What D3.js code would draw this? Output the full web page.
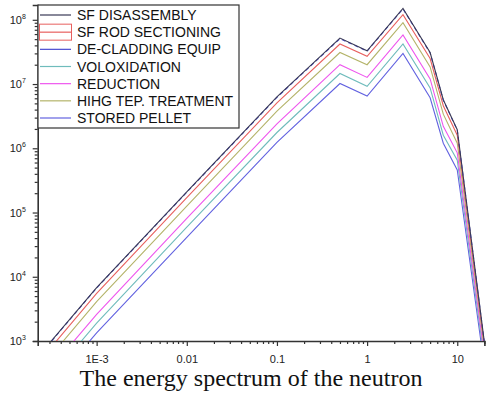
<!DOCTYPE html>
<html><head><meta charset="utf-8">
<script src="https://cdn.jsdelivr.net/npm/d3@7"></script>
<style>
html,body{margin:0;padding:0;background:#fff;}
svg{display:block;}
</style></head>
<body>
<svg id="c" width="486" height="396"></svg>
<script>
const energies = [1e-4, 1e-3, 0.01, 0.1, 0.5, 1, 2.5, 5, 7, 10, 20];
const seriesNames = ["SF DISASSEMBLY","SF ROD SECTIONING","DE-CLADDING EQUIP","VOLOXIDATION","REDUCTION","HIHG TEP. TREATMENT","STORED PELLET"];
const seriesColors = ["#3a3a55","#e8605f","#4a4ad0","#6fbcbc","#ee55ee","#b4b46a","#6262e0"];
const sfDisassembly   = [150, 6.8e3, 2.1e5, 6.3e6, 5.2e7, 3.3e7, 1.5e8, 3.1e7, 5.7e6, 1.95e6, 9.5e2];
const sfRodSectioning = [120, 5.5e3, 1.7e5, 5.1e6, 4.2e7, 2.7e7, 1.2e8, 2.5e7, 4.6e6, 1.6e6, 8.5e2];
const deCladding      = [148, 6.7e3, 2.07e5, 6.2e6, 5.1e7, 3.25e7, 1.48e8, 3.05e7, 5.6e6, 1.92e6, 9.3e2];
const voloxidation    = [42, 1.9e3, 5.9e4, 1.76e6, 1.46e7, 9.2e6, 4.2e7, 8.7e6, 1.6e6, 6.5e5, 5.0e2];
const reduction       = [58, 2.6e3, 8.1e4, 2.4e6, 2.0e7, 1.27e7, 5.8e7, 1.2e7, 2.2e6, 8.5e5, 6.0e2];
const highTemp        = [90, 4.1e3, 1.26e5, 3.8e6, 3.1e7, 2.0e7, 9.0e7, 1.85e7, 3.4e6, 1.2e6, 7.5e2];
const storedPellet    = [30, 1.34e3, 4.1e4, 1.24e6, 1.02e7, 6.5e6, 3.0e7, 6.1e6, 1.2e6, 4.6e5, 4.0e2];
const seriesValues = [sfDisassembly, sfRodSectioning, deCladding, voloxidation, reduction, highTemp, storedPellet];
const drawOrder = [6,3,4,5,1,2,0];
const xTickValues = [1e-3, 0.01, 0.1, 1, 10];
const xTickLabels = ["1E-3","0.01","0.1","1","10"];
const yTickValues = [1e3,1e4,1e5,1e6,1e7,1e8];
const yTickExps = ["3","4","5","6","7","8"];
const title = "The energy spectrum of the neutron";

const svg = d3.select("#c");
const x = d3.scaleLog().domain([2.22e-4, 20]).range([37.7, 484.4]);
const y = d3.scaleLog().domain([1e3, 1.7e8]).range([341, 5]);

svg.append("clipPath").attr("id","clip").append("rect")
  .attr("x", 37.7).attr("y", 0).attr("width", 486-37.7).attr("height", 341);

const xMinor = [];
for (let d=-4; d<=1; d++) for (let m=2; m<=9; m++) { const v=m*Math.pow(10,d); if (v>=2.22e-4 && v<=20) xMinor.push(v); }
const yMinor = [];
for (let d=3; d<=8; d++) for (let m=2; m<=9; m++) { const v=m*Math.pow(10,d); if (v<=1.7e8) yMinor.push(v); }

const axisFont = "Liberation Sans, Arial, sans-serif";

const gx = svg.append("g").attr("transform","translate(0,341)");
gx.call(d3.axisBottom(x).tickValues(xTickValues).tickSize(5).tickFormat((d,i)=>xTickLabels[i]));
gx.append("g").call(d3.axisBottom(x).tickValues(xMinor).tickSize(3).tickFormat(""));
gx.selectAll("g g path.domain").remove();
gx.selectAll("path.domain").attr("stroke","#333").attr("stroke-width",1.6);
gx.selectAll(".tick line").attr("stroke","#333").attr("stroke-width",1.2);
gx.selectAll(".tick text").attr("font-family",axisFont).attr("font-size",11).attr("fill","#222").attr("dy","1.3em");

const gy = svg.append("g").attr("transform","translate(37.7,0)");
gy.call(d3.axisLeft(y).tickValues(yTickValues).tickSize(5).tickFormat(""));
gy.append("g").call(d3.axisLeft(y).tickValues(yMinor).tickSize(3).tickFormat(""));
gy.selectAll("g g path.domain").remove();
gy.selectAll("path.domain").attr("stroke","#333").attr("stroke-width",1.6);
gy.selectAll(".tick line").attr("stroke","#333").attr("stroke-width",1.2);
gy.selectAll(".ylab").data(yTickValues).enter().append("text")
  .attr("class","ylab")
  .attr("x",-28).attr("y",d=>y(d)+4)
  .attr("text-anchor","start")
  .attr("font-family",axisFont).attr("font-size",11).attr("fill","#222")
  .each(function(d,i){
    const t=d3.select(this);
    t.append("tspan").text("10");
    t.append("tspan").attr("font-size",7).attr("dy",-5).text(yTickExps[i]);
  });

const line = d3.line().x((d,i)=>x(energies[i])).y(d=>y(d));
const gl = svg.append("g").attr("clip-path","url(#clip)");
drawOrder.forEach(k=>{
  gl.append("path").datum(seriesValues[k]).attr("d",line)
    .attr("fill","none").attr("stroke",seriesColors[k]).attr("stroke-width",1.1)
    .attr("stroke-dasharray", k===2 ? "4,3" : null);
});

const lg = svg.append("g");
lg.append("rect").attr("x",38).attr("y",5).attr("width",201).attr("height",123)
  .attr("fill","#fff").attr("stroke","#333").attr("stroke-width",1.2);
const rowY = d3.scaleLinear().domain([0,6]).range([15,118]);
seriesNames.forEach((n,i)=>{
  const yy=rowY(i);
  if(i===1){
    lg.append("rect").attr("x",39.5).attr("y",yy-8).attr("width",32).attr("height",16)
      .attr("fill","none").attr("stroke",seriesColors[1]).attr("stroke-width",1);
  }
  lg.append("line").attr("x1",40).attr("x2",71).attr("y1",yy).attr("y2",yy)
    .attr("stroke",seriesColors[i]).attr("stroke-width",1.2);
  lg.append("text").attr("x",77).attr("y",yy+5).text(n)
    .attr("font-family",axisFont).attr("font-size",14).attr("fill","#111");
});

svg.append("text").attr("x",251).attr("y",386).attr("text-anchor","middle")
  .attr("font-family","Liberation Serif, Times New Roman, serif").attr("font-size",24).attr("fill","#111")
  .text(title);
</script>
</body></html>
